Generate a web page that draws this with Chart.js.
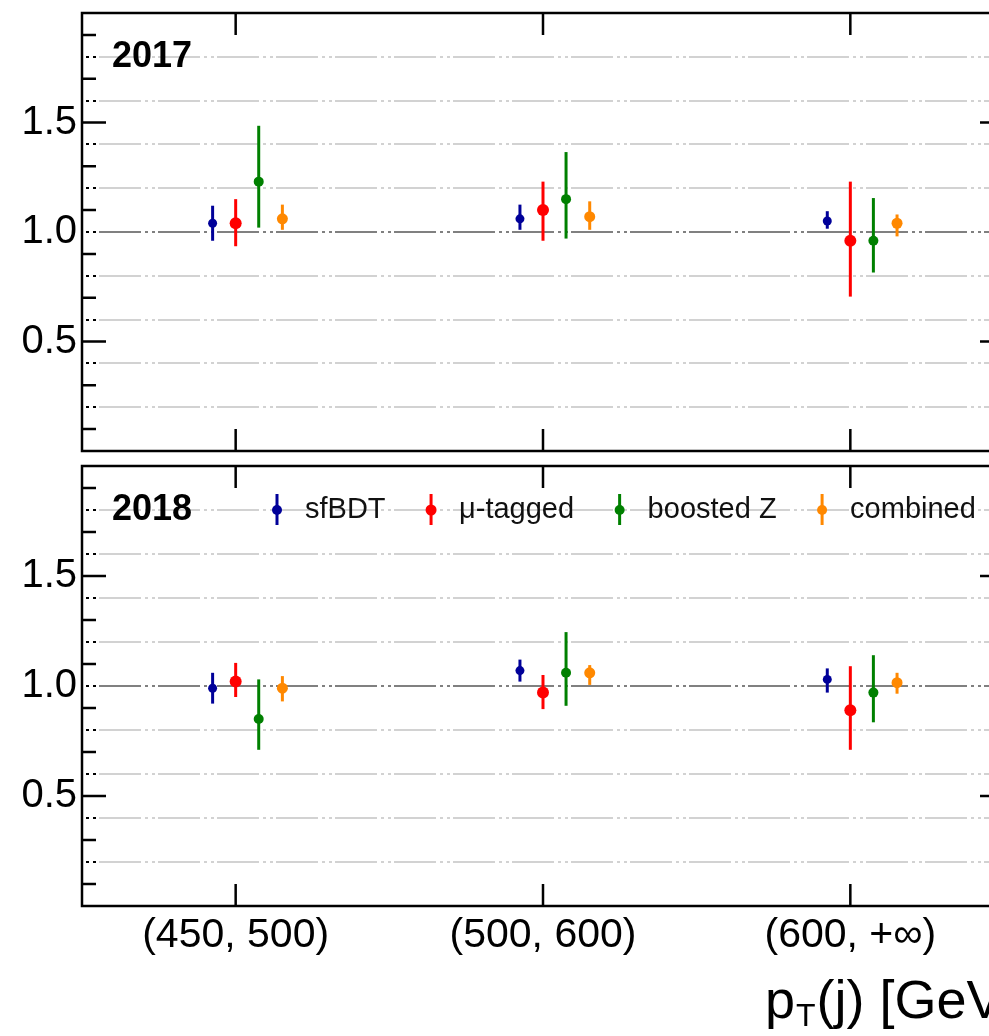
<!DOCTYPE html>
<html>
<head>
<meta charset="utf-8">
<script src="https://cdn.jsdelivr.net/npm/chart.js@4.4.1/dist/chart.umd.min.js"></script>
<style>
  html, body { margin: 0; padding: 0; background: #fff; overflow: hidden; }
  #wrap { position: relative; width: 1010px; height: 1036px; }
  #top { position: absolute; left: 0; top: 0; }
  #bottom { position: absolute; left: 0; top: 460px; }
</style>
</head>
<body>
<div id="wrap">
  <canvas id="top" width="1010" height="460"></canvas>
  <canvas id="bottom" width="1010" height="576"></canvas>
</div>
<script>
'use strict';

// bins of jet pT
var bins = ['(450, 500)', '(500, 600)', '(600, +∞)'];
var seriesNames = ['sfBDT', 'μ-tagged', 'boosted Z', 'combined'];
var seriesColors = ['#000099', '#ff0000', '#008000', '#ff8800'];

// 2017 scale factors, one row per series
var sf2017 = [
    [1.04, 1.06, 1.05],
    [1.04, 1.10, 0.96],
    [1.23, 1.15, 0.96],
    [1.06, 1.07, 1.04]
];
var errUp2017 = [
    [0.08, 0.065, 0.045],
    [0.11, 0.13, 0.27],
    [0.255, 0.215, 0.195],
    [0.065, 0.07, 0.04]
];
var errDown2017 = [
    [0.08, 0.05, 0.035],
    [0.105, 0.14, 0.255],
    [0.21, 0.18, 0.145],
    [0.05, 0.06, 0.06]
];

// 2018 scale factors
var sf2018 = [
    [0.99, 1.07, 1.03],
    [1.02, 0.97, 0.89],
    [0.85, 1.06, 0.97],
    [0.99, 1.06, 1.015]
];
var errUp2018 = [
    [0.07, 0.05, 0.05],
    [0.085, 0.08, 0.20],
    [0.18, 0.185, 0.17],
    [0.055, 0.035, 0.045]
];
var errDown2018 = [
    [0.07, 0.05, 0.06],
    [0.07, 0.075, 0.18],
    [0.14, 0.15, 0.135],
    [0.06, 0.055, 0.05]
];

// y axis decorations
var gridValues = [0.2, 0.4, 0.6, 0.8, 1.0, 1.2, 1.4, 1.6, 1.8];
var tickValues = [0.1, 0.3, 0.5, 0.7, 0.9, 1.1, 1.3, 1.5, 1.7, 1.9];
var majorTicks = [0.5, 1.5];
var labelValues = [0.5, 1.0, 1.5];

// horizontal dodge of the four series inside one bin
var seriesOffsets = [-0.075, 0.0, 0.075, 0.152];
var markerRadius = [4.5, 6, 5, 5.5];

var FONT = '"Liberation Sans", Arial, Helvetica, sans-serif';
var gridDash = [42, 4, 3, 4, 3, 3];

function makeDatasets(vals, ups, downs) {
    return seriesNames.map(function(name, s) {
        return {
            label: name,
            data: vals[s].map(function(v, i) {
                return { x: i + seriesOffsets[s], y: v };
            }),
            errUp: ups[s],
            errDown: downs[s],
            backgroundColor: seriesColors[s],
            borderColor: seriesColors[s],
            pointRadius: markerRadius[s],
            pointBorderWidth: 0
        };
    });
}

// vertical error bars, drawn under the markers
var errorBars = {
    id: 'errorBars',
    beforeDatasetsDraw: function(chart) {
        var ctx = chart.ctx;
        var ys = chart.scales.y;
        chart.data.datasets.forEach(function(ds, di) {
            var meta = chart.getDatasetMeta(di);
            ctx.save();
            ctx.strokeStyle = ds.borderColor;
            ctx.lineWidth = 3;
            meta.data.forEach(function(pt, i) {
                var v = ds.data[i].y;
                ctx.beginPath();
                ctx.moveTo(pt.x, ys.getPixelForValue(v + ds.errUp[i]));
                ctx.lineTo(pt.x, ys.getPixelForValue(v - ds.errDown[i]));
                ctx.stroke();
            });
            ctx.restore();
        });
    }
};

// ROOT-like frame: inward ticks, frame box, year tag, legend, axis title
var rootFrame = {
    id: 'rootFrame',
    afterDatasetsDraw: function(chart, args, opts) {
        var ctx = chart.ctx;
        var a = chart.chartArea;
        var xs = chart.scales.x;
        var ys = chart.scales.y;
        ctx.save();

        // little black dots where grid lines meet the axis
        ctx.strokeStyle = '#000';
        ctx.lineWidth = 2;
        ctx.setLineDash(gridDash);
        ctx.lineDashOffset = 42;
        gridValues.forEach(function(v) {
            var py = Math.round(ys.getPixelForValue(v));
            ctx.beginPath();
            ctx.moveTo(a.left, py);
            ctx.lineTo(a.left + 14, py);
            ctx.stroke();
        });
        ctx.setLineDash([]);

        ctx.lineWidth = 2.5;
        tickValues.forEach(function(v) {
            var py = ys.getPixelForValue(v);
            var len = majorTicks.indexOf(v) >= 0 ? 24 : 14;
            ctx.beginPath();
            ctx.moveTo(a.left, py);
            ctx.lineTo(a.left + len, py);
            ctx.moveTo(a.right, py);
            ctx.lineTo(a.right - len, py);
            ctx.stroke();
        });
        bins.forEach(function(b, i) {
            var px = xs.getPixelForValue(i);
            ctx.beginPath();
            ctx.moveTo(px, a.top);
            ctx.lineTo(px, a.top + 22);
            ctx.moveTo(px, a.bottom);
            ctx.lineTo(px, a.bottom - 22);
            ctx.stroke();
        });
        ctx.strokeRect(a.left, a.top, a.right - a.left, a.bottom - a.top);

        // year tag
        ctx.fillStyle = '#000';
        ctx.font = 'bold 36px ' + FONT;
        ctx.textBaseline = 'middle';
        ctx.textAlign = 'left';
        ctx.fillText(opts.year, a.left + 30, ys.getPixelForValue(1.8));

        if (opts.legend) {
            var ly = ys.getPixelForValue(1.8);
            var lx = a.left + 195;
            ctx.font = '29px ' + FONT;
            seriesNames.forEach(function(name, s) {
                ctx.strokeStyle = seriesColors[s];
                ctx.fillStyle = seriesColors[s];
                ctx.lineWidth = 3;
                ctx.beginPath();
                ctx.moveTo(lx, ly - 16);
                ctx.lineTo(lx, ly + 15);
                ctx.stroke();
                ctx.beginPath();
                ctx.arc(lx, ly, s === 1 ? 5.5 : 5, 0, Math.PI * 2);
                ctx.fill();
                ctx.fillStyle = '#111';
                ctx.fillText(name, lx + 28, ly);
                lx += 28 + ctx.measureText(name).width + 45.5;
            });
        }

        if (opts.axisTitle) {
            var bx = 765;
            var by = chart.height - 18;
            ctx.fillStyle = '#000';
            ctx.textBaseline = 'alphabetic';
            ctx.font = '54px ' + FONT;
            ctx.fillText('p', bx, by);
            bx += ctx.measureText('p').width + 1;
            ctx.font = '32px ' + FONT;
            ctx.fillText('T', bx, by + 8);
            bx += ctx.measureText('T').width + 1;
            ctx.font = '54px ' + FONT;
            ctx.fillText('(j) [GeV]', bx, by);
        }
        ctx.restore();
    }
};

function makeConfig(vals, ups, downs, extra, showX) {
    return {
        type: 'scatter',
        data: { datasets: makeDatasets(vals, ups, downs) },
        plugins: [errorBars, rootFrame],
        options: {
            responsive: false,
            animation: false,
            layout: { padding: extra.padding },
            plugins: {
                legend: { display: false },
                tooltip: { enabled: false },
                rootFrame: extra.frame
            },
            scales: {
                x: {
                    type: 'linear',
                    display: showX,
                    min: -0.5,
                    max: 2.5,
                    afterBuildTicks: function(scale) {
                        scale.ticks = bins.map(function(b, i) { return { value: i }; });
                    },
                    afterFit: function(scale) {
                        if (showX) scale.height = 130;
                        scale.paddingLeft = 0;
                        scale.paddingRight = 0;
                    },
                    grid: { display: false, drawTicks: false },
                    border: { display: false },
                    ticks: {
                        autoSkip: false,
                        maxRotation: 0,
                        padding: 5,
                        color: '#000',
                        font: { family: FONT, size: 41 },
                        callback: function(value) { return bins[value]; }
                    }
                },
                y: {
                    min: 0,
                    max: 2,
                    afterBuildTicks: function(scale) {
                        scale.ticks = gridValues.concat(tickValues)
                            .sort(function(p, q) { return p - q; })
                            .map(function(v) { return { value: v }; });
                    },
                    afterFit: function(scale) {
                        scale.width = 82;
                        scale.paddingTop = 0;
                        scale.paddingBottom = 0;
                    },
                    grid: {
                        drawTicks: false,
                        lineWidth: 2,
                        color: function(c) {
                            if (!c.tick) return 'rgba(0,0,0,0)';
                            if (c.tick.value === 1.0) return '#808080';
                            if (gridValues.indexOf(c.tick.value) >= 0) return '#d2d2d2';
                            return 'rgba(0,0,0,0)';
                        }
                    },
                    border: { display: false, dash: gridDash, dashOffset: 42 },
                    ticks: {
                        autoSkip: false,
                        padding: 5,
                        color: '#000',
                        font: { family: FONT, size: 40 },
                        callback: function(value) {
                            return labelValues.indexOf(value) >= 0 ? value.toFixed(1) : '';
                        }
                    }
                }
            }
        }
    };
}

window.chart2017 = new Chart(document.getElementById('top').getContext('2d'),
    makeConfig(sf2017, errUp2017, errDown2017, {
        padding: { top: 13, bottom: 9, left: 0, right: 3 },
        frame: { year: '2017', legend: false, axisTitle: false }
    }, false));

window.chart2018 = new Chart(document.getElementById('bottom').getContext('2d'),
    makeConfig(sf2018, errUp2018, errDown2018, {
        padding: { top: 6, bottom: 0, left: 0, right: 3 },
        frame: { year: '2018', legend: true, axisTitle: true }
    }, true));
</script>
</body>
</html>
